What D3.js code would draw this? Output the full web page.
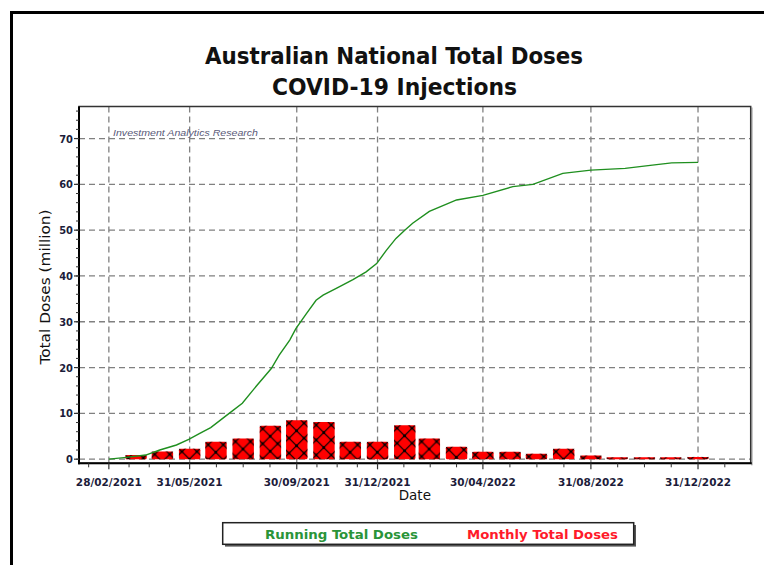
<!DOCTYPE html>
<html>
<head>
<meta charset="utf-8">
<script src="https://cdn.jsdelivr.net/npm/d3@7"></script>
<style>
  body { margin: 0; background: #fff; }
  svg { display: block; }
  .tick-label { font-family: "DejaVu Sans Condensed", "DejaVu Sans", sans-serif; font-weight: bold; font-size: 11px; fill: #1c1c3a; }
</style>
</head>
<body>
<div id="chart"></div>
<script>
////////// dados

// doses mensais (milhões), barra no último dia de cada mês
const monthEnds = ['2021-03-31','2021-04-30','2021-05-31','2021-06-30','2021-07-31','2021-08-31',
  '2021-09-30','2021-10-31','2021-11-30','2021-12-31','2022-01-31','2022-02-28','2022-03-31',
  '2022-04-30','2022-05-31','2022-06-30','2022-07-31','2022-08-31','2022-09-30','2022-10-31',
  '2022-11-30','2022-12-31'];
const monthlyDoses = [0.9,1.7,2.3,3.8,4.5,7.3,8.5,8.1,3.8,3.8,7.4,4.5,2.7,1.6,1.6,1.2,2.3,0.8,0.4,0.4,0.4,0.5];

// total acumulado (milhões)
const runDates = ['2021-02-28','2021-03-20','2021-04-11','2021-04-27','2021-05-16','2021-05-30',
  '2021-06-11','2021-06-24','2021-07-15','2021-07-30','2021-08-16','2021-09-01','2021-09-10',
  '2021-09-22','2021-09-29','2021-10-11','2021-10-22','2021-10-30','2021-11-14','2021-12-03',
  '2021-12-18','2021-12-30','2022-01-10','2022-01-21','2022-01-31','2022-02-09','2022-02-28',
  '2022-03-31','2022-04-30','2022-06-03','2022-06-26','2022-07-30','2022-08-31','2022-10-09',
  '2022-11-09','2022-12-01','2022-12-31'];
const runTotals = [0,0.4,0.9,2.0,3.1,4.3,5.6,6.9,10.0,12.2,16.2,19.8,22.7,26.0,28.5,31.8,34.7,35.8,
  37.3,39.2,40.9,42.7,45.6,48.2,50.0,51.5,54.1,56.6,57.6,59.5,60.0,62.4,63.1,63.5,64.2,64.7,64.8];

// marcas do eixo
const xTickDates = ['2021-02-28','2021-05-31','2021-09-30','2021-12-31','2022-04-30','2022-08-31','2022-12-31'];
const yTickValues = [0,10,20,30,40,50,60,70];

const parse = d3.timeParse('%Y-%m-%d');
const fmt = d3.timeFormat('%d/%m/%Y');

////////// svg
const W = 764, H = 565;
const svg = d3.select('#chart').append('svg').attr('width', W).attr('height', H);

const pLeft = 79, pRight = 750.7, pTop = 106.5, pBottom = 463.3;

let x = d3.scaleTime()
  .domain([parse('2021-01-25'), parse('2023-03-01')])
  .range([pLeft, pRight]);

let y = d3.scaleLinear()
  .domain([-0.9, 77])
  .range([pBottom, pTop]);

// moldura externa
svg.append('rect')
  .attr('x', 11.5).attr('y', 12.5)
  .attr('width', 800).attr('height', 600)
  .attr('fill', 'none').attr('stroke', '#000').attr('stroke-width', 3);

// título
const titleFont = '"DejaVu Sans Condensed", "DejaVu Sans", sans-serif';
svg.append('text')
  .attr('x', 394).attr('y', 64)
  .attr('text-anchor', 'middle')
  .attr('font-family', titleFont).attr('font-weight', 'bold').attr('font-size', 23)
  .attr('textLength', 378).attr('lengthAdjust', 'spacingAndGlyphs')
  .attr('fill', '#111')
  .text('Australian National Total Doses');
svg.append('text')
  .attr('x', 394.5).attr('y', 95)
  .attr('text-anchor', 'middle')
  .attr('font-family', titleFont).attr('font-weight', 'bold').attr('font-size', 23)
  .attr('textLength', 245).attr('lengthAdjust', 'spacingAndGlyphs')
  .attr('fill', '#111')
  .text('COVID-19 Injections');

// hachura das barras
const defs = svg.append('defs');
const hatch = defs.append('pattern')
  .attr('id', 'hatch')
  .attr('patternUnits', 'userSpaceOnUse')
  .attr('x', 3).attr('y', 3)
  .attr('width', 15).attr('height', 15);
hatch.append('path')
  .attr('d', 'M0,0L15,15M15,0L0,15')
  .attr('stroke', '#000').attr('stroke-width', 1.2);
[[0,0],[15,0],[0,15],[15,15],[7.5,7.5]].forEach(p => {
  hatch.append('circle').attr('cx', p[0]).attr('cy', p[1]).attr('r', 1.4).attr('fill', '#000');
});

// grade
const grid = svg.append('g')
  .attr('stroke', '#808080').attr('stroke-width', 1.3).attr('stroke-dasharray', '6,4').attr('fill', 'none');
grid.selectAll('line.h')
  .data(yTickValues)
  .join('line')
  .attr('class', 'h')
  .attr('x1', pLeft).attr('x2', pRight)
  .attr('y1', d => y(d)).attr('y2', d => y(d));
grid.selectAll('line.v')
  .data(xTickDates)
  .join('line')
  .attr('class', 'v')
  .attr('x1', d => x(parse(d))).attr('x2', d => x(parse(d)))
  .attr('y1', pTop).attr('y2', pBottom);

// marca d'água
svg.append('text')
  .attr('x', 113).attr('y', 136)
  .attr('font-family', 'Liberation Sans, Arial, sans-serif')
  .attr('font-style', 'italic').attr('font-size', 9.5)
  .attr('textLength', 145).attr('lengthAdjust', 'spacingAndGlyphs')
  .attr('fill', '#5a5a78')
  .text('Investment Analytics Research');

// barras mensais
const step = (x(parse(monthEnds[monthEnds.length - 1])) - x(parse(monthEnds[0]))) / (monthEnds.length - 1);
const bw = step * 0.8;

const bars = svg.append('g')
  .selectAll('g')
  .data(monthEnds.map((d, i) => ({ date: parse(d), value: monthlyDoses[i] })))
  .join('g')
  .attr('transform', d => 'translate(' + (x(d.date) - bw / 2) + ',' + y(d.value) + ')');

bars.append('rect')
  .attr('width', bw)
  .attr('height', d => y(0) - y(d.value))
  .attr('rx', 1.5)
  .attr('fill', '#ff0000');

bars.append('rect')
  .attr('width', bw)
  .attr('height', d => y(0) - y(d.value))
  .attr('fill', 'url(#hatch)');

// linha do total acumulado
const runData = runDates.map((d, i) => ({ date: parse(d), value: runTotals[i] }));
svg.append('path')
  .datum(runData)
  .attr('fill', 'none')
  .attr('stroke', '#1f8f1f')
  .attr('stroke-width', 1.4)
  .attr('d', d3.line().x(d => x(d.date)).y(d => y(d.value)));

// moldura da área do gráfico
svg.append('rect')
  .attr('x', pLeft).attr('y', pTop)
  .attr('width', pRight - pLeft).attr('height', pBottom - pTop)
  .attr('fill', 'none').attr('stroke', '#333').attr('stroke-width', 1.5);
svg.append('line')
  .attr('x1', pRight + 1.2).attr('x2', pRight + 1.2).attr('y1', pTop + 1).attr('y2', pBottom + 2)
  .attr('stroke', '#777').attr('stroke-width', 1);

// eixo y
const yAxis = svg.append('g');
yAxis.append('line')
  .attr('x1', pLeft).attr('x2', pLeft).attr('y1', pTop).attr('y2', pBottom + 1)
  .attr('stroke', '#000').attr('stroke-width', 2);
yAxis.selectAll('line.minor')
  .data(d3.range(0, 77, 2))
  .join('line')
  .attr('class', 'minor')
  .attr('x1', pLeft - 3).attr('x2', pLeft)
  .attr('y1', d => y(d)).attr('y2', d => y(d))
  .attr('stroke', '#333').attr('stroke-width', 1);
yAxis.selectAll('line.major')
  .data(yTickValues)
  .join('line')
  .attr('class', 'major')
  .attr('x1', pLeft - 5).attr('x2', pLeft)
  .attr('y1', d => y(d)).attr('y2', d => y(d))
  .attr('stroke', '#333').attr('stroke-width', 1.2);
yAxis.selectAll('text')
  .data(yTickValues)
  .join('text')
  .attr('class', 'tick-label')
  .attr('x', pLeft - 6).attr('y', d => y(d) + 4)
  .attr('text-anchor', 'end')
  .text(d => d);

// eixo x
const xAxis = svg.append('g');
xAxis.append('line')
  .attr('x1', pLeft - 1).attr('x2', pRight + 1).attr('y1', pBottom).attr('y2', pBottom)
  .attr('stroke', '#000').attr('stroke-width', 2);

const majors = xTickDates.map(d => x(parse(d)));
let minors = [];
majors.forEach((m, i) => {
  if (i < majors.length - 1) {
    const s = (majors[i + 1] - m) / 4;
    for (let k = 1; k < 4; k++) minors.push(m + k * s);
  }
});
const s0 = (majors[1] - majors[0]) / 4;
for (let p = majors[0] - s0; p > pLeft; p -= s0) minors.push(p);
const s1 = (majors[majors.length - 1] - majors[majors.length - 2]) / 4;
for (let p = majors[majors.length - 1] + s1; p < pRight; p += s1) minors.push(p);

xAxis.selectAll('line.minor')
  .data(minors)
  .join('line')
  .attr('class', 'minor')
  .attr('x1', d => d).attr('x2', d => d)
  .attr('y1', pBottom).attr('y2', pBottom + 4)
  .attr('stroke', '#333').attr('stroke-width', 1);
xAxis.selectAll('line.major')
  .data(majors)
  .join('line')
  .attr('class', 'major')
  .attr('x1', d => d).attr('x2', d => d)
  .attr('y1', pBottom).attr('y2', pBottom + 6)
  .attr('stroke', '#333').attr('stroke-width', 1.2);
xAxis.selectAll('text')
  .data(xTickDates)
  .join('text')
  .attr('class', 'tick-label')
  .attr('x', d => x(parse(d))).attr('y', 486)
  .attr('text-anchor', 'middle')
  .attr('textLength', 66).attr('lengthAdjust', 'spacingAndGlyphs')
  .text(d => fmt(parse(d)));

// títulos dos eixos
svg.append('text')
  .attr('x', (pLeft + pRight) / 2).attr('y', 500)
  .attr('text-anchor', 'middle')
  .attr('font-family', 'DejaVu Sans, sans-serif').attr('font-size', 13.5)
  .attr('fill', '#111')
  .text('Date');

svg.append('text')
  .attr('transform', 'translate(50,287) rotate(-90)')
  .attr('text-anchor', 'middle')
  .attr('font-family', 'DejaVu Sans, sans-serif').attr('font-size', 13.5)
  .attr('textLength', 155).attr('lengthAdjust', 'spacingAndGlyphs')
  .attr('fill', '#111')
  .text('Total Doses (million)');

// legenda
svg.append('rect')
  .attr('x', 225).attr('y', 525)
  .attr('width', 411).attr('height', 21.6)
  .attr('fill', '#555');
svg.append('rect')
  .attr('x', 222.7).attr('y', 522.7)
  .attr('width', 411).attr('height', 21.6)
  .attr('fill', '#fff').attr('stroke', '#222').attr('stroke-width', 1.5);
svg.append('text')
  .attr('x', 265).attr('y', 538.5)
  .attr('font-family', titleFont).attr('font-weight', 'bold').attr('font-size', 13)
  .attr('textLength', 153).attr('lengthAdjust', 'spacingAndGlyphs')
  .attr('fill', '#2a9438')
  .text('Running Total Doses');
svg.append('text')
  .attr('x', 467).attr('y', 538.5)
  .attr('font-family', titleFont).attr('font-weight', 'bold').attr('font-size', 13)
  .attr('textLength', 151).attr('lengthAdjust', 'spacingAndGlyphs')
  .attr('fill', '#ff1a2a')
  .text('Monthly Total Doses');
</script>
</body>
</html>
